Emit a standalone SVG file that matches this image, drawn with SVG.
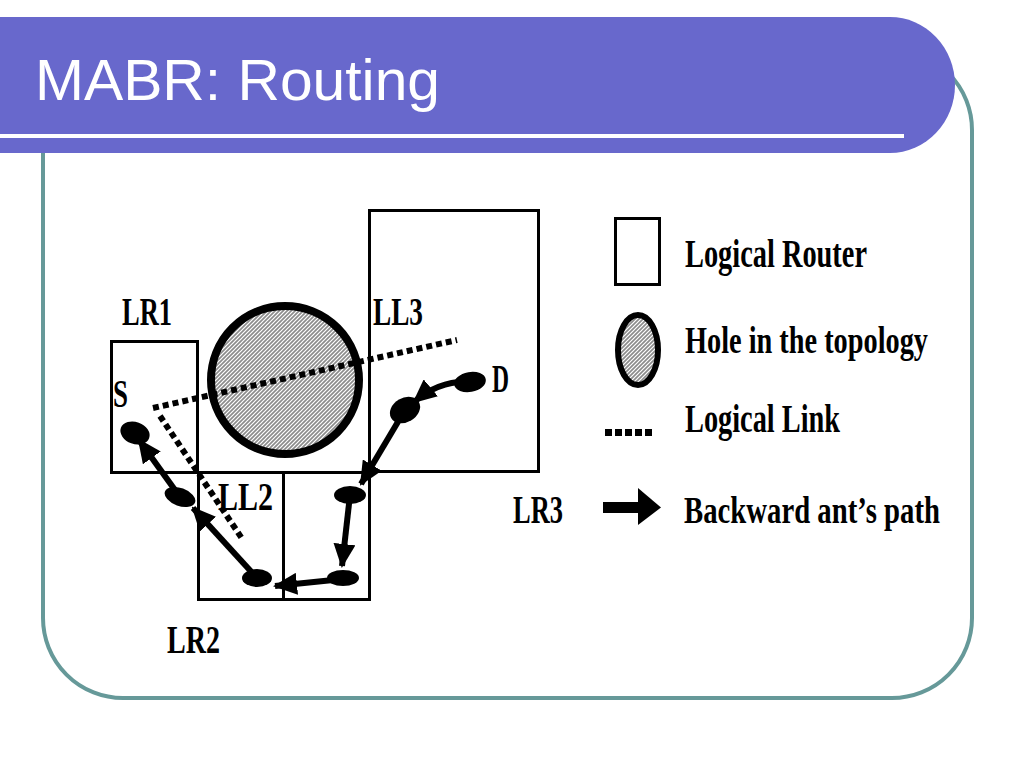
<svg xmlns="http://www.w3.org/2000/svg" width="1024" height="768" viewBox="0 0 1024 768">
<defs>
<pattern id="hatch" width="4" height="4" patternUnits="userSpaceOnUse">
<rect width="4" height="4" fill="#8c8c8c"/>
<path d="M-1,1 L1,-1 M0,4 L4,0 M3,5 L5,3" stroke="#ffffff" stroke-width="1.2"/>
</pattern>
<marker id="ah" markerWidth="24" markerHeight="22" refX="22" refY="11" orient="auto" markerUnits="userSpaceOnUse">
<path d="M0,0 L24,11 L0,22 Z" fill="#000"/>
</marker>
<style>
.lbl{font-family:"Liberation Serif","Times New Roman",serif;font-weight:bold;font-size:40px;fill:#000}
.sm{font-size:38px}
.box{fill:none;stroke:#000;stroke-width:3}
.link{fill:none;stroke:#000;stroke-width:6;stroke-dasharray:6 4}
.ant{fill:none;stroke:#000;stroke-width:6;marker-end:url(#ah)}
.blob{fill:#000}
</style>
</defs>
<rect width="1024" height="768" fill="#ffffff"/>
<g id="frame">
<rect x="43" y="50" width="929" height="648" rx="80" ry="80" fill="none" stroke="#669999" stroke-width="4"/>
</g>
<g id="banner">
<path d="M0,17 H890 A65,68 0 0 1 890,153 H0 Z" fill="#6868cc"/>
<rect x="0" y="134" width="904" height="4" fill="#ffffff"/>
<text x="35" y="100" font-family="Liberation Sans, Arial, sans-serif" font-size="58" fill="#ffffff" textLength="405" lengthAdjust="spacingAndGlyphs">MABR: Routing</text>
</g>
<g id="hole">
<circle cx="285" cy="380" r="74" fill="url(#hatch)" stroke="#000" stroke-width="8"/>
</g>
<g id="LR1">
<rect class="box" x="111.5" y="341.5" width="86" height="131"/>
<text class="lbl" x="122" y="325" textLength="50" lengthAdjust="spacingAndGlyphs">LR1</text>
</g>
<g id="LR3">
<rect class="box" x="369.5" y="210.5" width="169" height="261"/>
<text class="lbl" x="513" y="523" textLength="50" lengthAdjust="spacingAndGlyphs">LR3</text>
</g>
<g id="LR2">
<rect class="box" x="198.5" y="472.5" width="85" height="127"/>
<text class="lbl" x="167" y="653" textLength="53" lengthAdjust="spacingAndGlyphs">LR2</text>
</g>
<g id="LRmid">
<rect class="box" x="283.5" y="472.5" width="86" height="127"/>
</g>
<g id="connectors">
<line class="link" x1="153" y1="408" x2="457" y2="340"/>
<line class="link" x1="160" y1="416" x2="243" y2="540"/>
<path class="ant" d="M470,382 Q440,380 414,402"/>
<path class="ant" d="M405,410 L361,484"/>
<path class="ant" d="M350,495 L342,566"/>
<path class="ant" d="M343,579 L275,586"/>
<path class="ant" d="M257,578 L193,508"/>
<path class="ant" d="M180,497 L139,440"/>
<ellipse class="blob" cx="470" cy="382" rx="16" ry="10" transform="rotate(-10 470 382)"/>
<ellipse class="blob" cx="405" cy="410" rx="16" ry="12" transform="rotate(-30 405 410)"/>
<ellipse class="blob" cx="350" cy="495" rx="16" ry="9"/>
<ellipse class="blob" cx="343" cy="578" rx="16" ry="8"/>
<ellipse class="blob" cx="257" cy="578" rx="15" ry="9"/>
<ellipse class="blob" cx="180" cy="497" rx="16" ry="9" transform="rotate(20 180 497)"/>
<ellipse class="blob" cx="135" cy="433" rx="15" ry="11" transform="rotate(20 135 433)"/>
</g>
<g id="node-labels">
<text class="lbl" x="373" y="325" textLength="50" lengthAdjust="spacingAndGlyphs">LL3</text>
<text class="lbl" x="218" y="510" textLength="55" lengthAdjust="spacingAndGlyphs">LL2</text>
<text class="lbl" x="113" y="407" textLength="15" lengthAdjust="spacingAndGlyphs">S</text>
<text class="lbl" x="492" y="392" textLength="17" lengthAdjust="spacingAndGlyphs">D</text>
</g>
<g id="legend">
<rect class="box" x="615.5" y="218.5" width="44" height="66"/>
<text class="lbl" x="685" y="267" textLength="182" lengthAdjust="spacingAndGlyphs">Logical Router</text>
<ellipse cx="638" cy="350" rx="20" ry="35" fill="url(#hatch)" stroke="#000" stroke-width="6"/>
<text class="lbl sm" x="685" y="353" textLength="243" lengthAdjust="spacingAndGlyphs">Hole in the topology</text>
<line x1="605" y1="432.5" x2="655" y2="432.5" stroke="#000" stroke-width="7" stroke-dasharray="7 3"/>
<text class="lbl" x="685" y="432" textLength="155" lengthAdjust="spacingAndGlyphs">Logical Link</text>
<rect x="603" y="502" width="37" height="11" fill="#000"/>
<path d="M638,488 L661,507.5 L638,525 Z" fill="#000"/>
<text class="lbl sm" x="684" y="523" textLength="256" lengthAdjust="spacingAndGlyphs">Backward ant’s path</text>
</g>
</svg>
